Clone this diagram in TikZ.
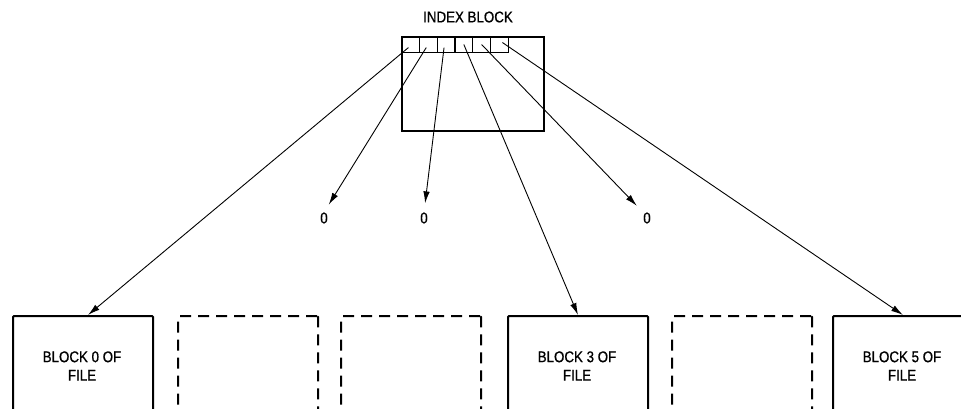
\documentclass[tikz,border=0pt]{standalone}
\usepackage{fontspec}
\setmainfont{Liberation Sans}
\newfontfamily\labfont[FakeStretch=0.86,FakeBold=0.8]{Liberation Sans}
\usetikzlibrary{arrows.meta,calc}
\begin{document}
\begin{tikzpicture}[x=1pt,y=-1pt,
  lab/.style={font=\labfont\fontsize{15.5}{18.5}\selectfont, inner sep=0pt, align=center},
  solidblk/.style={draw, line width=2pt, minimum width=140pt, minimum height=110pt, anchor=north west, inner sep=0pt, rounded corners=1pt},
  dashblk/.style={solidblk, dash pattern=on 11pt off 7pt},
  cell/.style={draw, line width=1.1pt, minimum width=17.8pt, minimum height=16pt, anchor=north west, inner sep=0pt},
  arr/.style={-{Latex[length=12pt,width=6.5pt]}, line width=0.9pt},
  zarr/.style={arr, shorten >=9pt}]
\useasboundingbox (0,0) rectangle (961,408);
\clip (0,0) rectangle (961,408);
% index block
\node[lab] (title) at (468,17) {INDEX BLOCK};
\node[draw, line width=2pt, minimum width=142pt, minimum height=94pt, anchor=north west, inner sep=0pt] (ib) at (401,36) {};
\node[cell] (c0) at (401,36) {};
\node[cell] (c1) at (418.8,36) {};
\node[cell] (c2) at (436.6,36) {};
\node[cell] (c3) at (454.4,36) {};
\node[cell] (c4) at (472.2,36) {};
\node[cell] (c5) at (490,36) {};
% file blocks
\node[solidblk] (b0) at (12,315) {};
\node[dashblk] (b1) at (177,315) {};
\node[dashblk] (b2) at (340,315) {};
\node[solidblk] (b3) at (507,315) {};
\node[dashblk] (b4) at (671,315) {};
\node[solidblk] (b5) at (832,315) {};
\node[lab] (t0) at (82,366) {BLOCK 0 OF\\FILE};
\node[lab] (t3) at (577,366) {BLOCK 3 OF\\FILE};
\node[lab] (t5) at (902,366) {BLOCK 5 OF\\FILE};
% zeros
\node[lab] (z1) at (324,218) {0};
\node[lab] (z2) at (424,218) {0};
\node[lab] (z4) at (647,218) {0};
% pointers
\draw[arr] ($(c0.center)+(-2,3)$) -- ([xshift=5pt]b0.north);
\draw[zarr] ($(c1.center)+(-2,3)$) -- (z1.north);
\draw[zarr] ($(c2.center)+(-2,3)$) -- (z2.north);
\draw[arr] (c3.center) -- (b3.north);
\draw[zarr] (c4.center) -- (z4.north west);
\draw[arr] ($(c5.center)+(3,-2)$) -- (b5.north);
\end{tikzpicture}
\end{document}
